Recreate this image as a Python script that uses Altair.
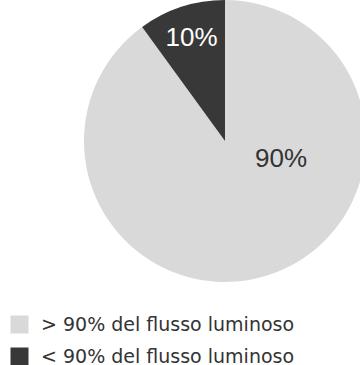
import altair as alt
import pandas as pd

categories = ["> 90% del flusso luminoso", "< 90% del flusso luminoso"]
values = [90, 10]
labels = ["90%", "10%"]
colors = ["#d9d9d9", "#383838"]

df = pd.DataFrame({"cat": categories, "val": values, "lab": labels, "order": [0, 1]})

color = alt.Color(
    "cat:N",
    scale=alt.Scale(domain=categories, range=colors),
    sort=categories,
    legend=alt.Legend(
        title=None, orient="none", legendX=10, legendY=315,
        symbolType="square", symbolSize=324, symbolStrokeWidth=0,
        labelFont="DejaVu Sans", labelFontSize=19, labelColor="#333333",
        labelLimit=0, rowPadding=12, labelOffset=12, padding=0,
    ),
)

base = alt.Chart(df).encode(
    theta=alt.Theta("val:Q", stack=True),
    order=alt.Order("order:Q"),
    x=alt.value(225), y=alt.value(141),
)

arc = base.mark_arc(outerRadius=141).encode(color=color)

t10 = base.transform_calculate(
    t="datum.val < 50 ? datum.lab : ''"
).mark_text(radius=108, font="Liberation Sans", fontSize=26, color="white",
            align="center", baseline="middle").encode(text="t:N")

t90 = base.transform_calculate(
    t="datum.val > 50 ? datum.lab : ''"
).mark_text(radius=0, dx=56, dy=18, font="Liberation Sans", fontSize=26,
            color="#333333", align="center", baseline="middle").encode(text="t:N")

chart = alt.layer(arc, t10, t90).properties(
    width=360, height=365, autosize=alt.AutoSizeParams(type="none"), padding=0,
).configure_view(stroke=None)

chart.save("out.html", embed_options={"renderer": "svg", "actions": False})
